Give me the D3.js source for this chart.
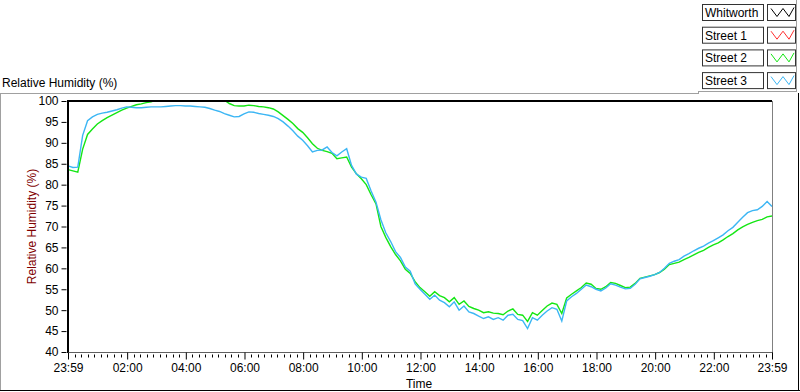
<!DOCTYPE html>
<html>
<head>
<meta charset="utf-8">
<script src="https://cdn.jsdelivr.net/npm/d3@7"></script>
<style>
  body { margin: 0; background: #fff; }
  text { font-family: "Liberation Sans", Arial, sans-serif; font-size: 12px; }
</style>
</head>
<body>
<div id="chart"></div>
<script>
// series names + colours for the legend
var seriesNames = ["Whitworth", "Street 1", "Street 2", "Street 3"];
var seriesColors = ["#000000", "#ff3030", "#14e614", "#3cb6f4"];

// y ticks
var yTicks = [40, 45, 50, 55, 60, 65, 70, 75, 80, 85, 90, 95, 100];

// x tick labels (first and last are 23:59)
var xTickLabels = ["23:59", "02:00", "04:00", "06:00", "08:00", "10:00", "12:00",
  "14:00", "16:00", "18:00", "20:00", "22:00", "23:59"];

// samples every 10 minutes starting at 23:59
var sampleMinutes = 10;

// Street 2 (green) relative humidity, %
var street2 = [
  83.6, 83.3, 83.0, 88.5, 92.0, 93.3, 94.5, 95.3, 96.0, 96.6,
  97.2, 97.8, 98.3, 98.7, 99.1, 99.3, 99.6, 99.8, 100.2, 100.3,
  100.5, 100.5, 100.5, 100.5, 100.5, 100.5, 100.5, 100.5, 100.5, 100.5,
  100.5, 100.4, 100.2, 99.4, 98.9, 98.8, 98.8, 99.0, 98.9, 98.7,
  98.6, 98.4, 98.1, 97.4, 96.5, 95.6, 94.6, 93.4, 92.5, 91.2,
  89.8, 88.7, 88.2, 87.9, 87.5, 86.2, 86.4, 86.6, 84.2, 82.6,
  81.4, 80.0, 77.6, 75.4, 70.0, 67.4, 65.2, 63.3, 61.8, 59.8,
  58.8, 56.8, 55.4, 54.4, 53.3, 54.4, 53.5, 53.0, 52.0, 53.0,
  51.4, 52.2, 50.9, 50.4, 50.0, 49.4, 49.6, 49.3, 49.2, 48.9,
  49.8, 50.3, 49.0, 48.8, 47.3, 49.4, 48.8, 49.9, 51.0, 51.7,
  51.4, 49.2, 52.9, 53.8, 54.6, 55.4, 56.5, 56.2, 55.2, 55.0,
  55.6, 56.6, 56.4, 55.9, 55.4, 55.5, 56.4, 57.6, 57.9, 58.2,
  58.5, 59.0, 59.8, 60.9, 61.2, 61.5, 62.1, 62.6, 63.2, 63.8,
  64.3, 65.0, 65.6, 66.1, 66.8, 67.6, 68.3, 69.2, 69.9, 70.5,
  71.0, 71.4, 71.7, 72.3, 72.5
];

// Street 3 (blue) relative humidity, %
var street3 = [
  84.5, 84.1, 84.2, 91.8, 95.3, 96.2, 96.8, 97.1, 97.3, 97.6,
  97.9, 98.3, 98.6, 98.5, 98.4, 98.4, 98.5, 98.6, 98.6, 98.6,
  98.7, 98.8, 98.9, 98.9, 98.8, 98.8, 98.7, 98.6, 98.5, 98.2,
  97.8, 97.5, 97.0, 96.6, 96.2, 96.3, 96.9, 97.4, 97.3, 97.0,
  96.8, 96.6, 96.3, 95.8, 95.0, 94.0, 92.9, 91.6, 90.6, 89.3,
  87.8, 88.2, 88.3, 89.0, 87.7, 86.9, 87.8, 88.6, 84.6, 82.5,
  81.8, 81.5, 78.5, 75.8, 71.6, 68.5, 66.4, 64.0, 62.6, 60.3,
  59.3, 56.3, 55.0, 53.8, 52.6, 53.6, 52.4, 51.8, 50.8, 52.0,
  50.0, 51.0, 49.6, 49.2, 48.6, 48.0, 48.4, 47.8, 48.2, 47.6,
  48.8, 49.0, 47.8, 47.5, 45.6, 48.2, 47.6, 48.8, 49.8, 50.6,
  50.2, 47.4, 52.2, 53.2, 54.0, 55.0, 56.0, 55.6, 55.0, 54.6,
  55.3, 56.3, 56.0, 55.5, 55.1, 55.2, 56.2, 57.5, 57.8, 58.1,
  58.5, 59.0, 60.0, 61.2, 61.7, 62.1, 62.9, 63.5, 64.2, 64.8,
  65.3, 66.0, 66.6, 67.3, 68.0, 69.0, 69.8, 71.0, 72.2, 73.3,
  73.8, 74.0, 74.8, 76.0, 74.8
];

var svgWidth = 800;
var svgHeight = 392;

// plot box
var plot = { left: 68, right: 772, top: 101, bottom: 352 };

var svg = d3.select("#chart")
  .append("svg")
  .attr("width", svgWidth)
  .attr("height", svgHeight);

// time domain: 23:59 to 23:59 next day
var start = new Date(2013, 0, 1, 23, 59);
var end = new Date(start.getTime() + 1440 * 60000);
var parseHM = d3.timeParse("%Y-%m-%d %H:%M");

var xScale = d3.scaleTime()
  .domain([start, end])
  .range([plot.left, plot.right]);

var yScale = d3.scaleLinear()
  .domain([40, 100])
  .range([plot.bottom, plot.top]);

// major tick dates from the labels
var majorTicks = xTickLabels.map(function(lab, i) {
  if (i == 0) return start;
  if (i == xTickLabels.length - 1) return end;
  return parseHM("2013-01-02 " + lab);
});

// minor ticks: 9 divisions per major interval
var minorTicks = [];
for (var i = 0; i < majorTicks.length - 1; i++) {
  var a = majorTicks[i].getTime(), b = majorTicks[i + 1].getTime();
  for (var j = 1; j < 9; j++) minorTicks.push(new Date(a + (b - a) * j / 9));
}

// outer panel frame
svg.append("line").attr("x1", 0).attr("x2", 698).attr("y1", 93.5).attr("y2", 93.5).attr("stroke", "#a0a0a0");
svg.append("line").attr("x1", 698).attr("x2", 797).attr("y1", 91.5).attr("y2", 91.5).attr("stroke", "#a0a0a0");
svg.append("line").attr("x1", 698.5).attr("x2", 698.5).attr("y1", 91).attr("y2", 94).attr("stroke", "#a0a0a0");
svg.append("line").attr("x1", 796.5).attr("x2", 796.5).attr("y1", 0).attr("y2", 92).attr("stroke", "#a0a0a0");
svg.append("line").attr("x1", 0.5).attr("x2", 0.5).attr("y1", 93).attr("y2", 391).attr("stroke", "#a0a0a0");
svg.append("line").attr("x1", 0).attr("x2", 800).attr("y1", 390.5).attr("y2", 390.5).attr("stroke", "#000");
svg.append("line").attr("x1", 798.5).attr("x2", 798.5).attr("y1", 93).attr("y2", 391).attr("stroke", "#000");

// title
svg.append("text")
  .attr("x", 2)
  .attr("y", 87)
  .text("Relative Humidity (%)");

// legend
var legend = svg.append("g");
seriesNames.forEach(function(name, i) {
  var y0 = 4.5 + i * 22.7;
  legend.append("rect")
    .attr("x", 702.5).attr("y", y0)
    .attr("width", 61).attr("height", 16)
    .attr("fill", "#fff").attr("stroke", "#333");
  legend.append("text")
    .attr("x", 705).attr("y", y0 + 12.5)
    .text(name);
  legend.append("rect")
    .attr("x", 767.5).attr("y", y0)
    .attr("width", 28).attr("height", 16)
    .attr("fill", "#fff").attr("stroke", "#333");
  legend.append("polyline")
    .attr("points", [[771, y0 + 4], [777, y0 + 12], [783, y0 + 4], [789, y0 + 12], [794, y0 + 3]].join(" "))
    .attr("fill", "none")
    .attr("stroke", seriesColors[i]);
});

// plot background + clip
svg.append("clipPath").attr("id", "clip")
  .append("rect")
  .attr("x", plot.left).attr("y", plot.top)
  .attr("width", plot.right - plot.left).attr("height", plot.bottom - plot.top);

// right & bottom gray edges of the plot
svg.append("line").attr("x1", plot.right + 0.5).attr("x2", plot.right + 0.5)
  .attr("y1", plot.top).attr("y2", plot.bottom).attr("stroke", "#808080");

// lines
var line = d3.line()
  .x(function(d, i) { return xScale(new Date(start.getTime() + i * sampleMinutes * 60000)); })
  .y(function(d) { return yScale(d); });

var lineGroup = svg.append("g").attr("clip-path", "url(#clip)");
lineGroup.append("path")
  .datum(street2)
  .attr("d", line)
  .attr("fill", "none")
  .attr("stroke", seriesColors[2])
  .attr("stroke-width", 1.4);
lineGroup.append("path")
  .datum(street3)
  .attr("d", line)
  .attr("fill", "none")
  .attr("stroke", seriesColors[3])
  .attr("stroke-width", 1.4);

// top black edge
svg.append("line").attr("x1", plot.left).attr("x2", plot.right)
  .attr("y1", plot.top).attr("y2", plot.top)
  .attr("stroke", "#000").attr("stroke-width", 2);

// y axis
var yAxis = d3.axisLeft(yScale).tickValues(yTicks).tickSize(5).tickPadding(3);
var yG = svg.append("g")
  .attr("transform", "translate(66.5,0)")
  .call(yAxis);
yG.select(".domain").remove();
yG.selectAll("text").attr("font-size", 12).attr("font-family", "Liberation Sans, Arial, sans-serif").attr("fill", "#000");

svg.append("line").attr("x1", plot.left).attr("x2", plot.left)
  .attr("y1", plot.top - 1).attr("y2", plot.bottom + 1)
  .attr("stroke", "#000").attr("stroke-width", 2);

// x axis
var xG = svg.append("g").attr("transform", "translate(0," + (plot.bottom + 0.5) + ")");
xG.append("line").attr("x1", plot.left).attr("x2", plot.right + 1)
  .attr("stroke", "#606060");
xG.selectAll(".minor")
  .data(minorTicks)
  .enter()
  .append("line")
  .attr("x1", d => Math.round(xScale(d)) + 0.5)
  .attr("x2", d => Math.round(xScale(d)) + 0.5)
  .attr("y1", 2).attr("y2", 5)
  .attr("stroke", "#000");
var xAxis = d3.axisBottom(xScale)
  .tickValues(majorTicks)
  .tickSize(7)
  .tickPadding(4)
  .tickFormat(function(d, i) { return xTickLabels[i]; });
var xAx = svg.append("g")
  .attr("transform", "translate(0," + (plot.bottom + 0.5) + ")")
  .call(xAxis);
xAx.select(".domain").remove();
xAx.selectAll("text").attr("font-size", 12).attr("font-family", "Liberation Sans, Arial, sans-serif").attr("fill", "#000");

// axis titles
svg.append("text")
  .attr("x", 419)
  .attr("y", 388)
  .attr("text-anchor", "middle")
  .text("Time");

svg.append("text")
  .attr("transform", "translate(36," + ((plot.top + plot.bottom) / 2) + ") rotate(-90)")
  .attr("text-anchor", "middle")
  .attr("fill", "#800000")
  .text("Relative Humidity (%)");
</script>
</body>
</html>
